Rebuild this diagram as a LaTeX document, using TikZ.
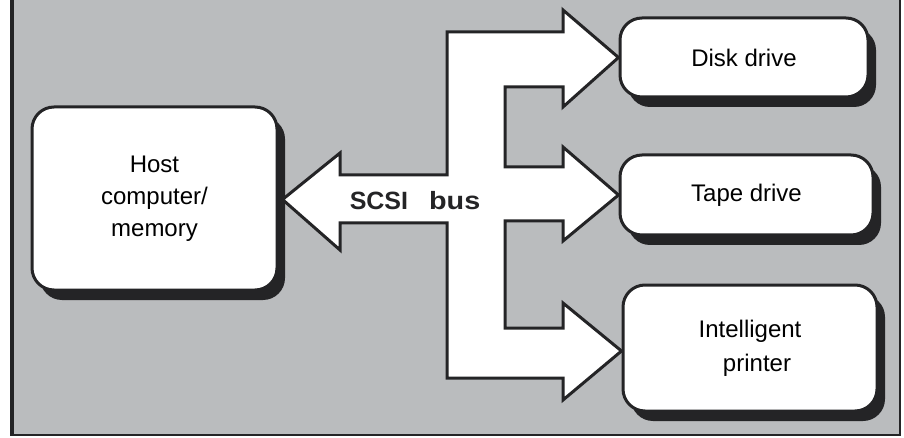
\documentclass[tikz,border=0pt]{standalone}
\usepackage{fontspec}
\setmainfont{Liberation Sans}
\usetikzlibrary{shadows,calc}
\definecolor{bg}{RGB}{186,188,190}
\definecolor{ink}{RGB}{36,36,38}
\begin{document}
\begin{tikzpicture}[x=1pt,y=-1pt,
  box/.style={draw=ink, line width=3pt, fill=white, rounded corners=22pt,
    align=center, inner sep=0pt, font=\fontsize{24}{32}\selectfont,
    drop shadow={shadow xshift=8pt, shadow yshift=-10pt, fill=ink, opacity=1}},
  bus/.style={draw=ink, line width=3pt, fill=white, line join=miter},
  lbl/.style={font=\bfseries\fontsize{25}{30}\selectfont, text=ink}]
\useasboundingbox (0,0) rectangle (904,438);
\fill[bg] (12,0) rectangle (900,435);
\draw[ink, line width=4pt] (12,0) -- (12,436);
\draw[ink, line width=2pt] (11,435) -- (900,435) -- (900,0);

\node[box, minimum width=245, minimum height=183] (host) at (154.5,198.5) {Host\\computer/\\memory};
\node[box, minimum width=248, minimum height=79] (disk) at (744,57.5) {Disk drive};
\node[box, minimum width=253, minimum height=80] (tape) at (746.5,195) {Tape drive};
\node[box, minimum width=254, minimum height=126, font=\fontsize{24}{34}\selectfont] (printer) at (750,348) {Intelligent\\\hspace*{14pt}printer};

\draw[bus] (447,32) -- (563,32) -- (563,10) -- (disk.west) -- (563,107) -- (563,87)
  -- (505,87) -- (505,167) -- (563,167) -- (563,147) -- (tape.west) -- (563,241)
  -- (563,221) -- (505,221) -- (505,328) -- (563,328) -- (563,303)
  -- ($(printer.west)+(0,3)$) -- (563,400) -- (563,378) -- (447,378) -- (447,223)
  -- (340,223) -- (340,250) -- ($(host.east)+(4,1)$) -- (340,153) -- (340,175)
  -- (447,175) -- cycle;

\node[lbl] (scsi) at (415,201) {SCSI\hspace{21pt}\scalebox{1.15}[1]{bus}};
\end{tikzpicture}
\end{document}
